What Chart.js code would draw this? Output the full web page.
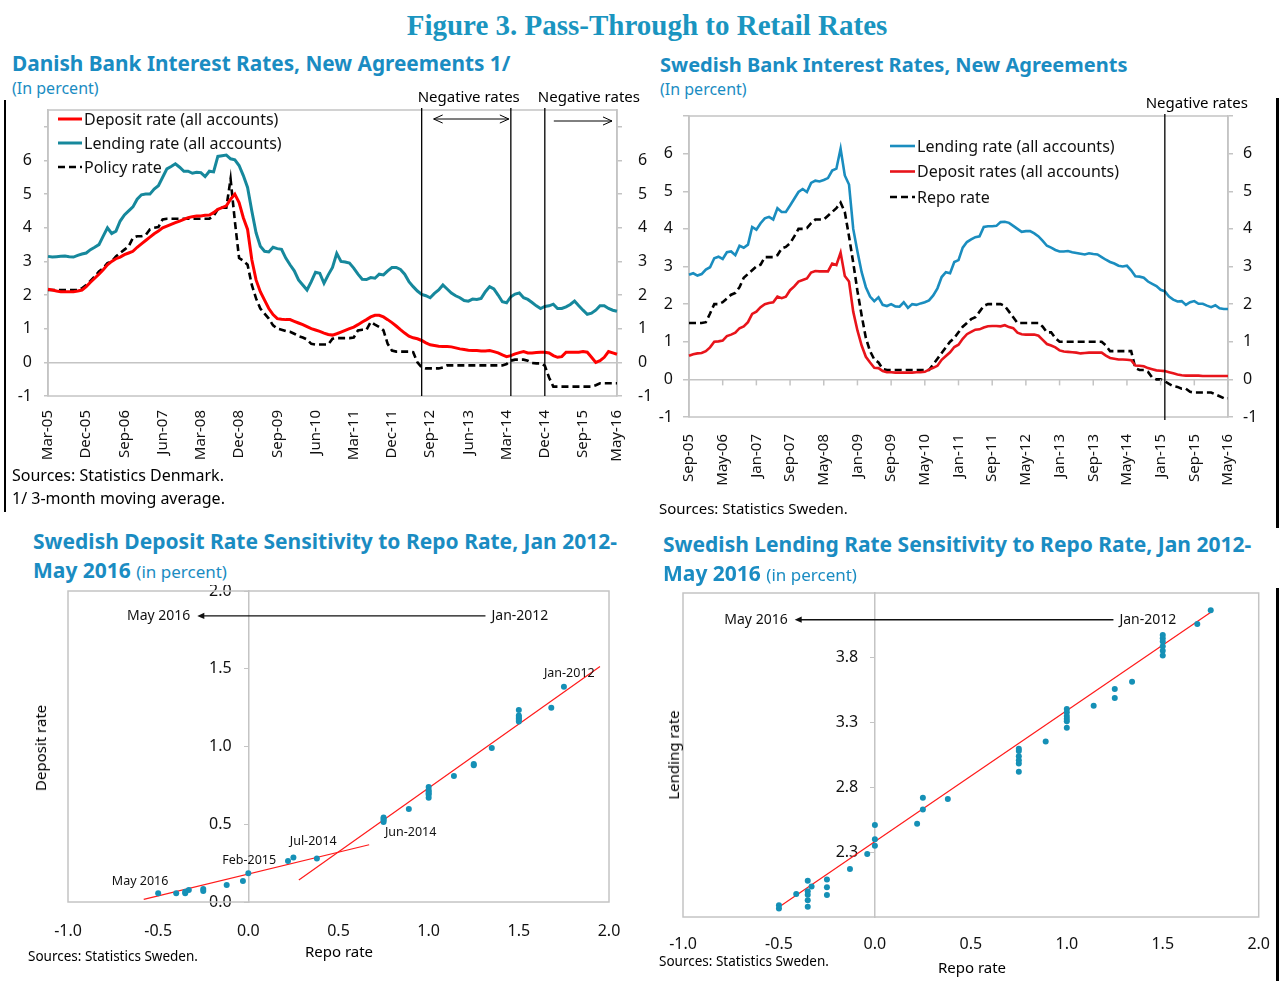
<!DOCTYPE html>
<html lang="en">
<head>
<meta charset="utf-8">
<title>Figure 3. Pass-Through to Retail Rates</title>
<script src="https://cdn.jsdelivr.net/npm/chart.js@4.4.1/dist/chart.umd.min.js"></script>
<style>
  body { margin: 0; background: #fff; font-family: 'Noto Sans', 'Open Sans', sans-serif; color: #000; }
  #page { position: relative; width: 1280px; height: 981px; overflow: hidden; }
  .abs { position: absolute; white-space: nowrap; line-height: 1.2; }
  .title { left: 0; width: 1294px; top: 9px; text-align: center; font: bold 29px 'Liberation Serif', 'Times New Roman', serif; color: #1a95c0; }
  .head { font-weight: bold; font-size: 20px; color: #1a8cc2; }
  .head.wide { font-size: 21px; }
  .unit { font-size: 16px; color: #1a8cc2; font-weight: normal; }
  .unit2 { font-size: 17px; color: #1a8cc2; font-weight: normal; }
  .note { font-size: 15px; }
  .note.big { font-size: 16px; }
  .small { font-size: 13.5px; }
  .axt { font-size: 15px; transform: translate(-50%, -50%); }
  .axt.rot { transform: translate(-50%, -50%) rotate(-90deg); }
  canvas { position: absolute; }
  .rule { position: absolute; background: #000; z-index: 2; }
</style>
</head>
<body>
<div id="page">
  <div class="abs title">Figure 3. Pass-Through to Retail Rates</div>

  <div class="abs head" style="left:12px; top:51px; font-size:20.8px;">Danish Bank Interest Rates, New Agreements 1/</div>
  <div class="abs unit" style="left:12px; top:79px;">(In percent)</div>
  <div class="abs head" style="left:660px; top:53px;">Swedish Bank Interest Rates, New Agreements</div>
  <div class="abs unit" style="left:660px; top:80px;">(In percent)</div>

  <canvas id="dkChart" width="665" height="390" style="left:0; top:85px;"></canvas>
  <canvas id="seChart" width="630" height="415" style="left:650px; top:85px;"></canvas>

  <div class="abs note big" style="left:12px; top:466px;">Sources: Statistics Denmark.</div>
  <div class="abs note big" style="left:12px; top:489px;">1/ 3-month moving average.</div>
  <div class="abs note" style="left:659px; top:499px;">Sources: Statistics Sweden.</div>

  <div class="abs head wide" style="left:33px; top:529px;">Swedish Deposit Rate Sensitivity to Repo Rate, Jan 2012-</div>
  <div class="abs head wide" style="left:33px; top:558px;">May 2016 <span class="unit2">(in percent)</span></div>
  <div class="abs head wide" style="left:663px; top:532px;">Swedish Lending Rate Sensitivity to Repo Rate, Jan 2012-</div>
  <div class="abs head wide" style="left:663px; top:561px;">May 2016 <span class="unit2">(in percent)</span></div>

  <canvas id="depChart" width="640" height="360" style="left:0; top:585px;"></canvas>
  <canvas id="lendChart" width="640" height="395" style="left:640px; top:585px;"></canvas>

  <div class="abs axt rot" style="left:40px; top:748px;">Deposit rate</div>
  <div class="abs axt" style="left:339px; top:951px;">Repo rate</div>
  <div class="abs small" style="left:28px; top:948px;">Sources: Statistics Sweden.</div>
  <div class="abs axt rot" style="left:673px; top:755px;">Lending rate</div>
  <div class="abs axt" style="left:972px; top:967px;">Repo rate</div>
  <div class="abs small" style="left:659px; top:953px;">Sources: Statistics Sweden.</div>

  <div class="rule" style="left:4px; top:100px; width:2px; height:412px;"></div>
  <div class="rule" style="left:1276px; top:98px; width:3px; height:430px;"></div>
  <div class="rule" style="left:1276px; top:588px; width:3px; height:393px;"></div>
</div>

<script>
// ---- Danish rates, monthly Mar-05 .. May-16 (percent) ----
const dkTickLabels = ['Mar-05', 'Dec-05', 'Sep-06', 'Jun-07', 'Mar-08', 'Dec-08', 'Sep-09', 'Jun-10',
    'Mar-11', 'Dec-11', 'Sep-12', 'Jun-13', 'Mar-14', 'Dec-14', 'Sep-15', 'May-16'];
const dkNegativeMarks = ['Jul-12', 'Apr-14', 'Dec-14'];

const dkLending = [
    3.15, 3.13, 3.14, 3.15, 3.16, 3.14, 3.13, 3.18,
    3.22, 3.25, 3.35, 3.42, 3.5, 3.75, 4.0,
    3.83, 3.9, 4.2, 4.38, 4.5,
    4.62, 4.85, 4.98, 5.0, 5.0,
    5.15, 5.25, 5.5, 5.75, 5.82,
    5.9, 5.8, 5.68, 5.68, 5.62,
    5.65, 5.64, 5.52, 5.68, 5.66,
    6.12, 6.14, 6.16, 6.05, 6.02,
    5.85, 5.55, 5.2, 4.5, 3.85,
    3.45, 3.3, 3.28, 3.42, 3.38,
    3.36, 3.1, 2.9, 2.72, 2.45,
    2.3, 2.15, 2.4, 2.68, 2.65,
    2.35, 2.6, 2.82, 3.24, 3.0,
    2.98, 2.95, 2.8, 2.62, 2.47,
    2.46, 2.52, 2.5, 2.62, 2.6,
    2.72, 2.82, 2.82, 2.76, 2.62,
    2.4, 2.25, 2.12, 2.02, 1.98,
    1.92, 2.05, 2.15, 2.3, 2.18,
    2.06, 1.98, 1.92, 1.84, 1.82,
    1.88, 1.87, 1.9, 2.1, 2.25,
    2.18, 2.0, 1.8, 1.77, 1.95,
    2.03, 2.06, 1.92, 1.87, 1.78,
    1.68, 1.6, 1.66, 1.68, 1.73,
    1.6, 1.6, 1.65, 1.72, 1.82,
    1.68, 1.55, 1.43, 1.46, 1.55,
    1.68, 1.68, 1.6, 1.55, 1.52,
];

const dkDeposit = [
    2.17, 2.15, 2.12, 2.1, 2.1, 2.1, 2.1, 2.12, 2.15,
    2.25, 2.38, 2.5, 2.62, 2.75, 2.9,
    3.0, 3.08, 3.13, 3.2, 3.25,
    3.3, 3.42, 3.52, 3.62, 3.72,
    3.82, 3.9, 4.0, 4.05, 4.1,
    4.15, 4.2, 4.25, 4.3, 4.33,
    4.35, 4.35, 4.37, 4.38, 4.45,
    4.55, 4.6, 4.65, 4.85, 5.0,
    4.75, 4.3, 3.95, 3.05, 2.45,
    2.1, 1.85, 1.6, 1.42, 1.3,
    1.28, 1.27, 1.27, 1.22, 1.17,
    1.12, 1.06, 1.0, 0.96, 0.92,
    0.87, 0.83, 0.81, 0.85, 0.9,
    0.95, 1.0, 1.05, 1.12, 1.2,
    1.27, 1.35, 1.4, 1.4, 1.35,
    1.27, 1.18, 1.08, 0.97, 0.87,
    0.78, 0.73, 0.7, 0.65, 0.58,
    0.52, 0.5, 0.48, 0.47, 0.47,
    0.46, 0.43, 0.4, 0.38, 0.36,
    0.35, 0.35, 0.34, 0.34, 0.35,
    0.32, 0.28, 0.22, 0.17, 0.2,
    0.25, 0.29, 0.32, 0.28, 0.28,
    0.29, 0.3, 0.3, 0.28, 0.2,
    0.15, 0.17, 0.3, 0.3, 0.3,
    0.3, 0.32, 0.3, 0.15, 0.0,
    0.05, 0.15, 0.32, 0.28, 0.24,
];

const dkPolicy = [
    2.15, 2.15, 2.15, 2.15, 2.15, 2.15, 2.15, 2.15,
    2.2, 2.3, 2.42, 2.55, 2.7, 2.8, 2.95,
    3.0, 3.15, 3.25, 3.35, 3.45,
    3.7, 3.75, 3.75, 3.78, 3.95,
    4.0, 4.02, 4.25, 4.27, 4.27,
    4.27, 4.27, 4.27, 4.27, 4.27,
    4.27, 4.27, 4.27, 4.27, 4.35,
    4.55, 4.6, 4.6, 5.45, 4.2,
    3.1, 3.02, 2.9, 2.3, 1.9,
    1.6, 1.45, 1.3, 1.1, 1.0,
    0.97, 0.93, 0.91, 0.85, 0.78,
    0.74, 0.68, 0.55, 0.53, 0.53,
    0.53, 0.53, 0.7, 0.72, 0.72,
    0.72, 0.72, 0.74, 0.95, 0.97,
    0.97, 1.2, 1.12, 1.05, 0.95,
    0.55, 0.35, 0.32, 0.32, 0.32,
    0.32, 0.3, 0.0, -0.15, -0.18,
    -0.18, -0.18, -0.18, -0.15, -0.09,
    -0.09, -0.09, -0.09, -0.09, -0.09,
    -0.09, -0.09, -0.09, -0.09, -0.09,
    -0.09, -0.09, -0.09, -0.05, 0.05,
    0.08, 0.08, 0.08, 0.05, -0.02,
    -0.03, -0.03, -0.1, -0.45, -0.72,
    -0.72, -0.72, -0.72, -0.72, -0.72,
    -0.72, -0.72, -0.72, -0.72, -0.68,
    -0.62, -0.62, -0.62, -0.62, -0.62,
];

// ---- Swedish rates, monthly Sep-05 .. May-16 (percent) ----
const seTickLabels = ['Sep-05', 'May-06', 'Jan-07', 'Sep-07', 'May-08', 'Jan-09', 'Sep-09', 'May-10', 'Jan-11',
    'Sep-11', 'May-12', 'Jan-13', 'Sep-13', 'May-14', 'Jan-15', 'Sep-15', 'May-16'];
const seNegativeMarks = ['Feb-15'];

const seLending = [
    2.78, 2.82, 2.76, 2.8, 2.92, 2.98, 3.22, 3.26, 3.2, 3.38,
    3.4, 3.3, 3.55, 3.5, 3.58, 4.05, 3.98, 4.15, 4.28, 4.32,
    4.25, 4.55, 4.45, 4.45, 4.62, 4.8, 4.98, 5.06, 4.98, 5.22,
    5.28, 5.26, 5.3, 5.35, 5.55, 5.6, 6.13, 5.42, 5.18, 4.0,
    3.4, 2.85, 2.45, 2.2, 2.08, 2.18, 1.98, 1.95, 2.0, 1.94,
    1.93, 2.05, 1.9, 2.0, 1.98, 2.02, 2.05, 2.1, 2.23, 2.42,
    2.72, 2.85, 2.82, 3.12, 3.17, 3.5, 3.65, 3.72, 3.78, 3.8,
    4.05, 4.07, 4.07, 4.08, 4.18, 4.19, 4.16, 4.08, 4.0, 3.92,
    3.94, 3.94, 3.88, 3.8, 3.68, 3.55, 3.5, 3.44, 3.4, 3.4,
    3.41, 3.38, 3.36, 3.34, 3.32, 3.35, 3.33, 3.32, 3.25, 3.18,
    3.12, 3.08, 3.02, 3.0, 3.02, 2.9, 2.74, 2.73, 2.7, 2.6,
    2.54, 2.48, 2.38, 2.34, 2.2, 2.12, 2.07, 2.08, 1.98, 2.05,
    2.08, 2.01, 2.01, 1.96, 1.92, 1.97, 1.89, 1.87, 1.87,
];

const seDeposit = [
    0.63, 0.67, 0.69, 0.7, 0.75, 0.85, 1.0, 1.01, 1.03, 1.15,
    1.19, 1.24, 1.36, 1.41, 1.52, 1.74, 1.8, 1.92, 2.0, 2.03,
    2.05, 2.2, 2.16, 2.2, 2.37, 2.47, 2.6, 2.64, 2.68, 2.84,
    2.88, 2.87, 2.87, 2.87, 3.08, 3.04, 3.37, 2.75, 2.6, 1.8,
    1.3, 0.9, 0.6, 0.45, 0.31, 0.3, 0.22, 0.19, 0.19, 0.18,
    0.18, 0.18, 0.18, 0.18, 0.19, 0.19, 0.2, 0.26, 0.31, 0.36,
    0.52, 0.62, 0.72, 0.86, 0.92, 1.08, 1.2, 1.26, 1.32, 1.33,
    1.38, 1.41, 1.42, 1.42, 1.41, 1.44, 1.39, 1.36, 1.24, 1.2,
    1.19, 1.19, 1.19, 1.16, 1.05, 0.94, 0.9, 0.85, 0.77, 0.74,
    0.73, 0.72, 0.71, 0.69, 0.7, 0.71, 0.71, 0.71, 0.71, 0.63,
    0.57, 0.55, 0.53, 0.53, 0.52, 0.51, 0.37, 0.36, 0.35, 0.3,
    0.27, 0.24, 0.23, 0.22, 0.19, 0.16, 0.13, 0.11, 0.1, 0.1,
    0.1, 0.1, 0.09, 0.09, 0.09, 0.09, 0.09, 0.09, 0.09,
];

const seRepo = [
    1.5, 1.5, 1.5, 1.5, 1.52, 1.75, 2.0, 2.0, 2.05, 2.15,
    2.25, 2.3, 2.45, 2.7, 2.8, 2.9, 3.0, 3.05, 3.25, 3.25,
    3.25, 3.3, 3.48, 3.52, 3.62, 3.8, 4.0, 4.0, 4.02, 4.15,
    4.25, 4.25, 4.25, 4.35, 4.45, 4.55, 4.7, 4.45, 3.8, 3.1,
    2.35, 1.7, 1.1, 0.75, 0.53, 0.45, 0.28, 0.25, 0.25, 0.25,
    0.25, 0.25, 0.25, 0.25, 0.25, 0.25, 0.25, 0.25, 0.4, 0.55,
    0.7, 0.85, 1.0, 1.1, 1.25, 1.4, 1.5, 1.6, 1.65, 1.8,
    1.95, 2.0, 2.0, 2.0, 2.0, 1.95, 1.8, 1.65, 1.5, 1.5,
    1.5, 1.5, 1.5, 1.5, 1.4, 1.25, 1.25, 1.1, 1.0, 1.0,
    1.0, 1.0, 1.0, 1.0, 1.0, 1.0, 1.0, 1.0, 1.0, 0.9,
    0.75, 0.75, 0.75, 0.75, 0.75, 0.75, 0.3, 0.25, 0.25, 0.2,
    0.05, 0.0, 0.0, -0.05, -0.12, -0.18, -0.2, -0.25, -0.25, -0.33,
    -0.35, -0.35, -0.35, -0.35, -0.35, -0.4, -0.45, -0.5, -0.5,
];

// ---- Sensitivity scatters, Jan 2012 .. May 2016 ----
const depRepo = [1.75, 1.68, 1.5, 1.5, 1.5, 1.5, 1.5, 1.5, 1.35, 1.25, 1.25, 1.14,
    1.0, 1.0, 1.0, 1.0, 1.0, 1.0, 0.89, 0.75, 0.75, 0.75, 0.75, 0.38, 0.25, 0.22,
    0.0, -0.03, -0.12, -0.25, -0.25, -0.33, -0.35, -0.35, -0.4, -0.5];
const depRate = [1.385, 1.25, 1.234, 1.2, 1.19, 1.18, 1.17, 1.16, 0.99, 0.888, 0.879, 0.81,
    0.74, 0.72, 0.71, 0.7, 0.69, 0.67, 0.598, 0.544, 0.535, 0.525, 0.515, 0.28, 0.286, 0.264,
    0.185, 0.135, 0.11, 0.083, 0.07, 0.077, 0.066, 0.056, 0.056, 0.056];
// fitted lines: Feb-2015..May-2016 and Jan-2012..Jul-2014
const depFitLowX = [-0.58, 0.67];
const depFitLowY = [0.017, 0.368];
const depFitHighX = [0.28, 1.95];
const depFitHighY = [0.142, 1.514];

const lendRepo = [1.75, 1.68, 1.5, 1.5, 1.5, 1.5, 1.5, 1.5, 1.34, 1.25, 1.25, 1.14,
    1.0, 1.0, 1.0, 1.0, 1.0, 1.0, 0.89, 0.75, 0.75, 0.75, 0.75, 0.75, 0.75, 0.38,
    0.25, 0.25, 0.22, 0.0, 0.0, 0.0, -0.04, -0.13, -0.25, -0.25, -0.25, -0.33,
    -0.35, -0.35, -0.35, -0.35, -0.35, -0.41, -0.5, -0.5];
const lendRate = [4.167, 4.06, 3.975, 3.95, 3.925, 3.89, 3.855, 3.817, 3.615, 3.56, 3.49, 3.43,
    3.405, 3.38, 3.35, 3.33, 3.31, 3.26, 3.154, 3.098, 3.08, 3.04, 3.01, 2.985, 2.92, 2.71,
    2.72, 2.63, 2.52, 2.51, 2.4, 2.35, 2.287, 2.17, 2.09, 2.03, 1.97, 2.036,
    2.08, 1.998, 1.972, 1.93, 1.88, 1.978, 1.89, 1.865];
const lendFitX = [-0.49, 1.76];
const lendFitY = [1.886, 4.162];

const scatterTicksX = [-1.0, -0.5, 0.0, 0.5, 1.0, 1.5, 2.0];
const depTicksY = [0.0, 0.5, 1.0, 1.5, 2.0];
const lendTicksY = [2.3, 2.8, 3.3, 3.8];

// --------------------------------------------------------------
const FONT = "'Noto Sans', 'Open Sans', sans-serif";
const FRAME = '#c4c4c4';
Chart.defaults.font.family = FONT;
Chart.defaults.color = '#111';
Chart.defaults.animation = false;

const MONTHS = ['Jan', 'Feb', 'Mar', 'Apr', 'May', 'Jun', 'Jul', 'Aug', 'Sep', 'Oct', 'Nov', 'Dec'];

function monthLabels(year, month, count) {
    const out = [];
    for (let i = 0; i < count; i++) {
        const m = month - 1 + i;
        const y = year + Math.floor(m / 12);
        out.push(MONTHS[m % 12] + '-' + String(y % 100).padStart(2, '0'));
    }
    return out;
}

const dkMonths = monthLabels(2005, 3, dkLending.length);
const seMonths = monthLabels(2005, 9, seLending.length);

function toPoints(xs, ys) {
    return xs.map((x, i) => ({ x: x, y: ys[i] }));
}

function arrowHead(ctx, x, y, dir, size, filled) {
    ctx.beginPath();
    ctx.moveTo(x - dir * size, y - size * 0.45);
    ctx.lineTo(x, y);
    ctx.lineTo(x - dir * size, y + size * 0.45);
    if (filled) {
        ctx.closePath();
        ctx.fill();
    } else {
        ctx.stroke();
    }
}

// y axes: fixed width, and no extra top/bottom padding for the end labels
function fixWidth(w) {
    return s => {
        if (w !== null) s.width = w;
        s.paddingTop = 0;
        s.paddingBottom = 0;
    };
}

// light grey box round the plot area
const framePlugin = {
    id: 'frame',
    beforeDatasetsDraw(chart) {
        const { ctx, chartArea: a } = chart;
        ctx.save();
        ctx.strokeStyle = FRAME;
        ctx.lineWidth = 1.5;
        ctx.strokeRect(a.left, a.top, a.right - a.left, a.bottom - a.top);
        ctx.restore();
    },
};

// legend drawn inside the plot, built from the datasets
const insideLegend = {
    id: 'insideLegend',
    afterDatasetsDraw(chart, args, opts) {
        const { ctx, chartArea: a } = chart;
        ctx.save();
        ctx.font = opts.fontSize + 'px ' + FONT;
        ctx.textBaseline = 'middle';
        ctx.fillStyle = '#111';
        opts.order.forEach((di, k) => {
            const ds = chart.data.datasets[di];
            const x = a.left + opts.dx;
            const y = a.top + opts.dy + k * opts.spacing;
            ctx.strokeStyle = ds.borderColor;
            ctx.lineWidth = ds.borderWidth;
            ctx.setLineDash(ds.borderDash || []);
            ctx.beginPath();
            ctx.moveTo(x, y);
            ctx.lineTo(x + opts.len, y);
            ctx.stroke();
            ctx.setLineDash([]);
            ctx.fillText(ds.label, x + opts.len + 2, y + 1);
        });
        ctx.restore();
    },
};

// vertical "negative rates" markers on the time charts
const negativeRates = {
    id: 'negativeRates',
    afterDatasetsDraw(chart, args, opts) {
        const { ctx, chartArea: a, scales: { x, y } } = chart;
        const labels = chart.data.labels;
        const xs = opts.marks.map(m => x.getPixelForValue(labels.indexOf(m)));
        ctx.save();
        ctx.strokeStyle = '#000';
        ctx.fillStyle = '#000';
        ctx.lineWidth = 1.3;
        xs.forEach(px => {
            ctx.beginPath();
            ctx.moveTo(px, a.top - 2);
            ctx.lineTo(px, a.bottom + opts.below);
            ctx.stroke();
        });
        ctx.font = '15px ' + FONT;
        ctx.textBaseline = 'middle';
        opts.texts.forEach(t => {
            ctx.textAlign = t.align || 'left';
            ctx.fillText('Negative rates', xs[t.mark] + t.dx, a.top - opts.textUp);
        });
        ctx.lineWidth = 1;
        (opts.arrows || []).forEach(ar => {
            const x1 = xs[ar.from] + ar.dx1;
            const x2 = ar.to === 'end' ? a.right - ar.dx2 : xs[ar.to] - ar.dx2;
            const yy = a.top + ar.dy;
            ctx.beginPath();
            ctx.moveTo(x1, yy);
            ctx.lineTo(x2, yy);
            ctx.stroke();
            arrowHead(ctx, x2, yy, 1, 9, false);
            if (ar.both) arrowHead(ctx, x1, yy, -1, 9, false);
        });
        // tick marks on the zero line
        if (opts.zeroTicks) {
            const y0 = y.getPixelForValue(0);
            ctx.strokeStyle = FRAME;
            ctx.lineWidth = 1.5;
            labels.forEach((l, i) => {
                if (!opts.zeroTicks.includes(l)) return;
                const px = x.getPixelForValue(i);
                ctx.beginPath();
                ctx.moveTo(px, y0);
                ctx.lineTo(px, y0 + 6);
                ctx.stroke();
            });
        }
        ctx.restore();
    },
};

// arrow of time and point captions on the scatters
const scatterNotes = {
    id: 'scatterNotes',
    afterDatasetsDraw(chart, args, opts) {
        const { ctx, scales: { x, y } } = chart;
        const ar = opts.arrow;
        const ay = y.getPixelForValue(ar.y);
        const x1 = x.getPixelForValue(ar.from);
        const x2 = x.getPixelForValue(ar.to);
        ctx.save();
        ctx.strokeStyle = '#111';
        ctx.fillStyle = '#111';
        ctx.lineWidth = 1.4;
        ctx.beginPath();
        ctx.moveTo(x1, ay);
        ctx.lineTo(x2 + 4, ay);
        ctx.stroke();
        arrowHead(ctx, x2, ay, -1, 7, true);
        ctx.font = '14px ' + FONT;
        ctx.textBaseline = 'middle';
        ctx.textAlign = 'left';
        ctx.fillText(ar.startText, x1 + 6, ay);
        ctx.textAlign = 'right';
        ctx.fillText(ar.endText, x2 - 7, ay);
        ctx.font = '12.5px ' + FONT;
        ctx.textAlign = 'center';
        (opts.labels || []).forEach(l => {
            ctx.fillText(l.text, x.getPixelForValue(l.x), y.getPixelForValue(l.y));
        });
        ctx.restore();
    },
};

function timeScales(tickLabels, opt) {
    const yCommon = {
        min: -1,
        max: opt.max,
        ticks: {
            stepSize: 1,
            includeBounds: false,
            color: '#111',
            font: { size: 16 },
            callback: v => (v > 6 ? '' : v),
        },
        border: { color: FRAME, width: 1.5 },
    };
    return {
        x: {
            grid: { display: false },
            border: { display: false },
            ticks: {
                autoSkip: false,
                minRotation: 90,
                maxRotation: 90,
                padding: opt.xPad,
                color: '#111',
                font: { size: 15 },
                callback: function (v) {
                    const l = this.getLabelForValue(v);
                    return tickLabels.includes(l) ? l : '';
                },
            },
            afterFit: s => { s.height = opt.xHeight; },
        },
        y: {
            ...yCommon,
            position: 'left',
            ticks: { ...yCommon.ticks, padding: opt.leftPad },
            grid: {
                color: c => (c.tick && c.tick.value === 0 ? FRAME : 'transparent'),
                lineWidth: 1.5,
                tickColor: FRAME,
                tickLength: opt.leftTick,
            },
            afterFit: fixWidth(opt.leftWidth),
        },
        y2: {
            ...yCommon,
            position: 'right',
            ticks: { ...yCommon.ticks, padding: opt.rightPad },
            grid: { drawOnChartArea: false, tickColor: FRAME, tickLength: opt.rightTick, lineWidth: 1.5 },
            afterFit: fixWidth(opt.rightWidth),
        },
    };
}

const lineStyle = { pointRadius: 0, tension: 0, fill: false };

new Chart(document.getElementById('dkChart'), {
    type: 'line',
    data: {
        labels: dkMonths,
        datasets: [
            { label: 'Deposit rate (all accounts)', data: dkDeposit, borderColor: '#ff0000', borderWidth: 3, ...lineStyle },
            { label: 'Lending rate (all accounts)', data: dkLending, borderColor: '#16889c', borderWidth: 3, ...lineStyle },
            { label: 'Policy rate', data: dkPolicy, borderColor: '#000', borderWidth: 2.6, borderDash: [7, 4], ...lineStyle },
        ],
    },
    options: {
        responsive: false,
        layout: { padding: { top: 25, left: 0, right: 0, bottom: 0 } },
        plugins: {
            legend: { display: false },
            tooltip: { enabled: false },
            insideLegend: { order: [0, 1, 2], dx: 10, dy: 9, spacing: 24, len: 24, fontSize: 16 },
            negativeRates: {
                marks: dkNegativeMarks,
                below: 0,
                textUp: 12,
                texts: [{ mark: 0, dx: -4 }, { mark: 2, dx: -7 }],
                arrows: [
                    { from: 0, to: 1, dx1: 12, dx2: 2, dy: 9, both: true },
                    { from: 2, to: 'end', dx1: 9, dx2: 5, dy: 11 },
                ],
            },
        },
        scales: timeScales(dkTickLabels, {
            max: 7.5, xPad: 6, xHeight: 79,
            leftPad: 12, leftTick: 4, leftWidth: 48,
            rightPad: 16, rightTick: 5, rightWidth: 48,
        }),
    },
    plugins: [framePlugin, insideLegend, negativeRates],
});

new Chart(document.getElementById('seChart'), {
    type: 'line',
    data: {
        labels: seMonths,
        datasets: [
            { label: 'Lending rate (all accounts)', data: seLending, borderColor: '#1a8dbf', borderWidth: 2.6, ...lineStyle },
            { label: 'Deposit rates (all accounts)', data: seDeposit, borderColor: '#e8141b', borderWidth: 2.6, ...lineStyle },
            { label: 'Repo rate', data: seRepo, borderColor: '#000', borderWidth: 2.6, borderDash: [7, 4], ...lineStyle },
        ],
    },
    options: {
        responsive: false,
        layout: { padding: { top: 31, left: 0, right: 0, bottom: 0 } },
        plugins: {
            legend: { display: false },
            tooltip: { enabled: false },
            insideLegend: { order: [0, 1, 2], dx: 201, dy: 30, spacing: 25.5, len: 25, fontSize: 16 },
            negativeRates: {
                marks: seNegativeMarks,
                below: 3,
                textUp: 12,
                texts: [{ mark: 0, dx: 83, align: 'right' }],
                zeroTicks: seTickLabels,
            },
        },
        scales: timeScales(seTickLabels, {
            max: 7, xPad: 9, xHeight: 83,
            leftPad: 10, leftTick: 6, leftWidth: 39,
            rightPad: 10, rightTick: 5, rightWidth: 52,
        }),
    },
    plugins: [framePlugin, insideLegend, negativeRates],
});

function scatterScales(ticksY, opt) {
    return {
        x: {
            type: 'linear',
            min: -1,
            max: 2,
            grid: { display: false },
            border: { display: false },
            afterBuildTicks: s => { s.ticks = scatterTicksX.map(v => ({ value: v })); },
            ticks: { padding: opt.xPad, color: '#111', font: { size: 16 }, callback: v => v.toFixed(1) },
            afterFit: s => { s.height = opt.xHeight; },
        },
        y: {
            type: 'linear',
            position: { x: 0 },
            min: opt.yMin,
            max: opt.yMax,
            afterBuildTicks: s => { s.ticks = ticksY.map(v => ({ value: v })); },
            ticks: { color: '#111', font: { size: 16 }, callback: v => v.toFixed(1) + '    ' },
            grid: { drawOnChartArea: false, tickColor: FRAME, tickLength: 4 },
            border: { color: FRAME, width: 1.5 },
            afterFit: fixWidth(null),
        },
    };
}

const dotStyle = { pointRadius: 3, pointBackgroundColor: '#1590b6', pointBorderWidth: 0, showLine: false };
const fitStyle = { borderColor: '#ff1a1a', borderWidth: 1.2, pointRadius: 0, showLine: true };

new Chart(document.getElementById('depChart'), {
    type: 'scatter',
    data: {
        datasets: [
            { label: 'Deposit rate', data: toPoints(depRepo, depRate), ...dotStyle },
            { label: 'Fit 2015-16', data: toPoints(depFitLowX, depFitLowY), ...fitStyle },
            { label: 'Fit 2012-14', data: toPoints(depFitHighX, depFitHighY), ...fitStyle },
        ],
    },
    options: {
        responsive: false,
        layout: { padding: { top: 6, left: 68, right: 31, bottom: 0 } },
        plugins: {
            legend: { display: false },
            tooltip: { enabled: false },
            scatterNotes: {
                arrow: { y: 1.84, from: 1.315, to: -0.283, startText: 'Jan-2012', endText: 'May 2016' },
                labels: [
                    { text: 'May 2016', x: -0.6, y: 0.13 },
                    { text: 'Feb-2015', x: 0.005, y: 0.27 },
                    { text: 'Jul-2014', x: 0.36, y: 0.387 },
                    { text: 'Jun-2014', x: 0.9, y: 0.45 },
                    { text: 'Jan-2012', x: 1.78, y: 1.47 },
                ],
            },
        },
        scales: scatterScales(depTicksY, { yMin: 0, yMax: 2, xPad: 12, xHeight: 43 }),
    },
    plugins: [framePlugin, scatterNotes],
});

new Chart(document.getElementById('lendChart'), {
    type: 'scatter',
    data: {
        datasets: [
            { label: 'Lending rate', data: toPoints(lendRepo, lendRate), ...dotStyle },
            { label: 'Fit', data: toPoints(lendFitX, lendFitY), ...fitStyle },
        ],
    },
    options: {
        responsive: false,
        layout: { padding: { top: 8, left: 43, right: 17, bottom: 0 } },
        plugins: {
            legend: { display: false },
            tooltip: { enabled: false },
            scatterNotes: {
                arrow: { y: 4.094, from: 1.243, to: -0.418, startText: 'Jan-2012', endText: 'May 2016' },
            },
        },
        scales: scatterScales(lendTicksY, { yMin: 1.8, yMax: 4.3, xPad: 10, xHeight: 63 }),
    },
    plugins: [framePlugin, scatterNotes],
});
</script>
</body>
</html>
